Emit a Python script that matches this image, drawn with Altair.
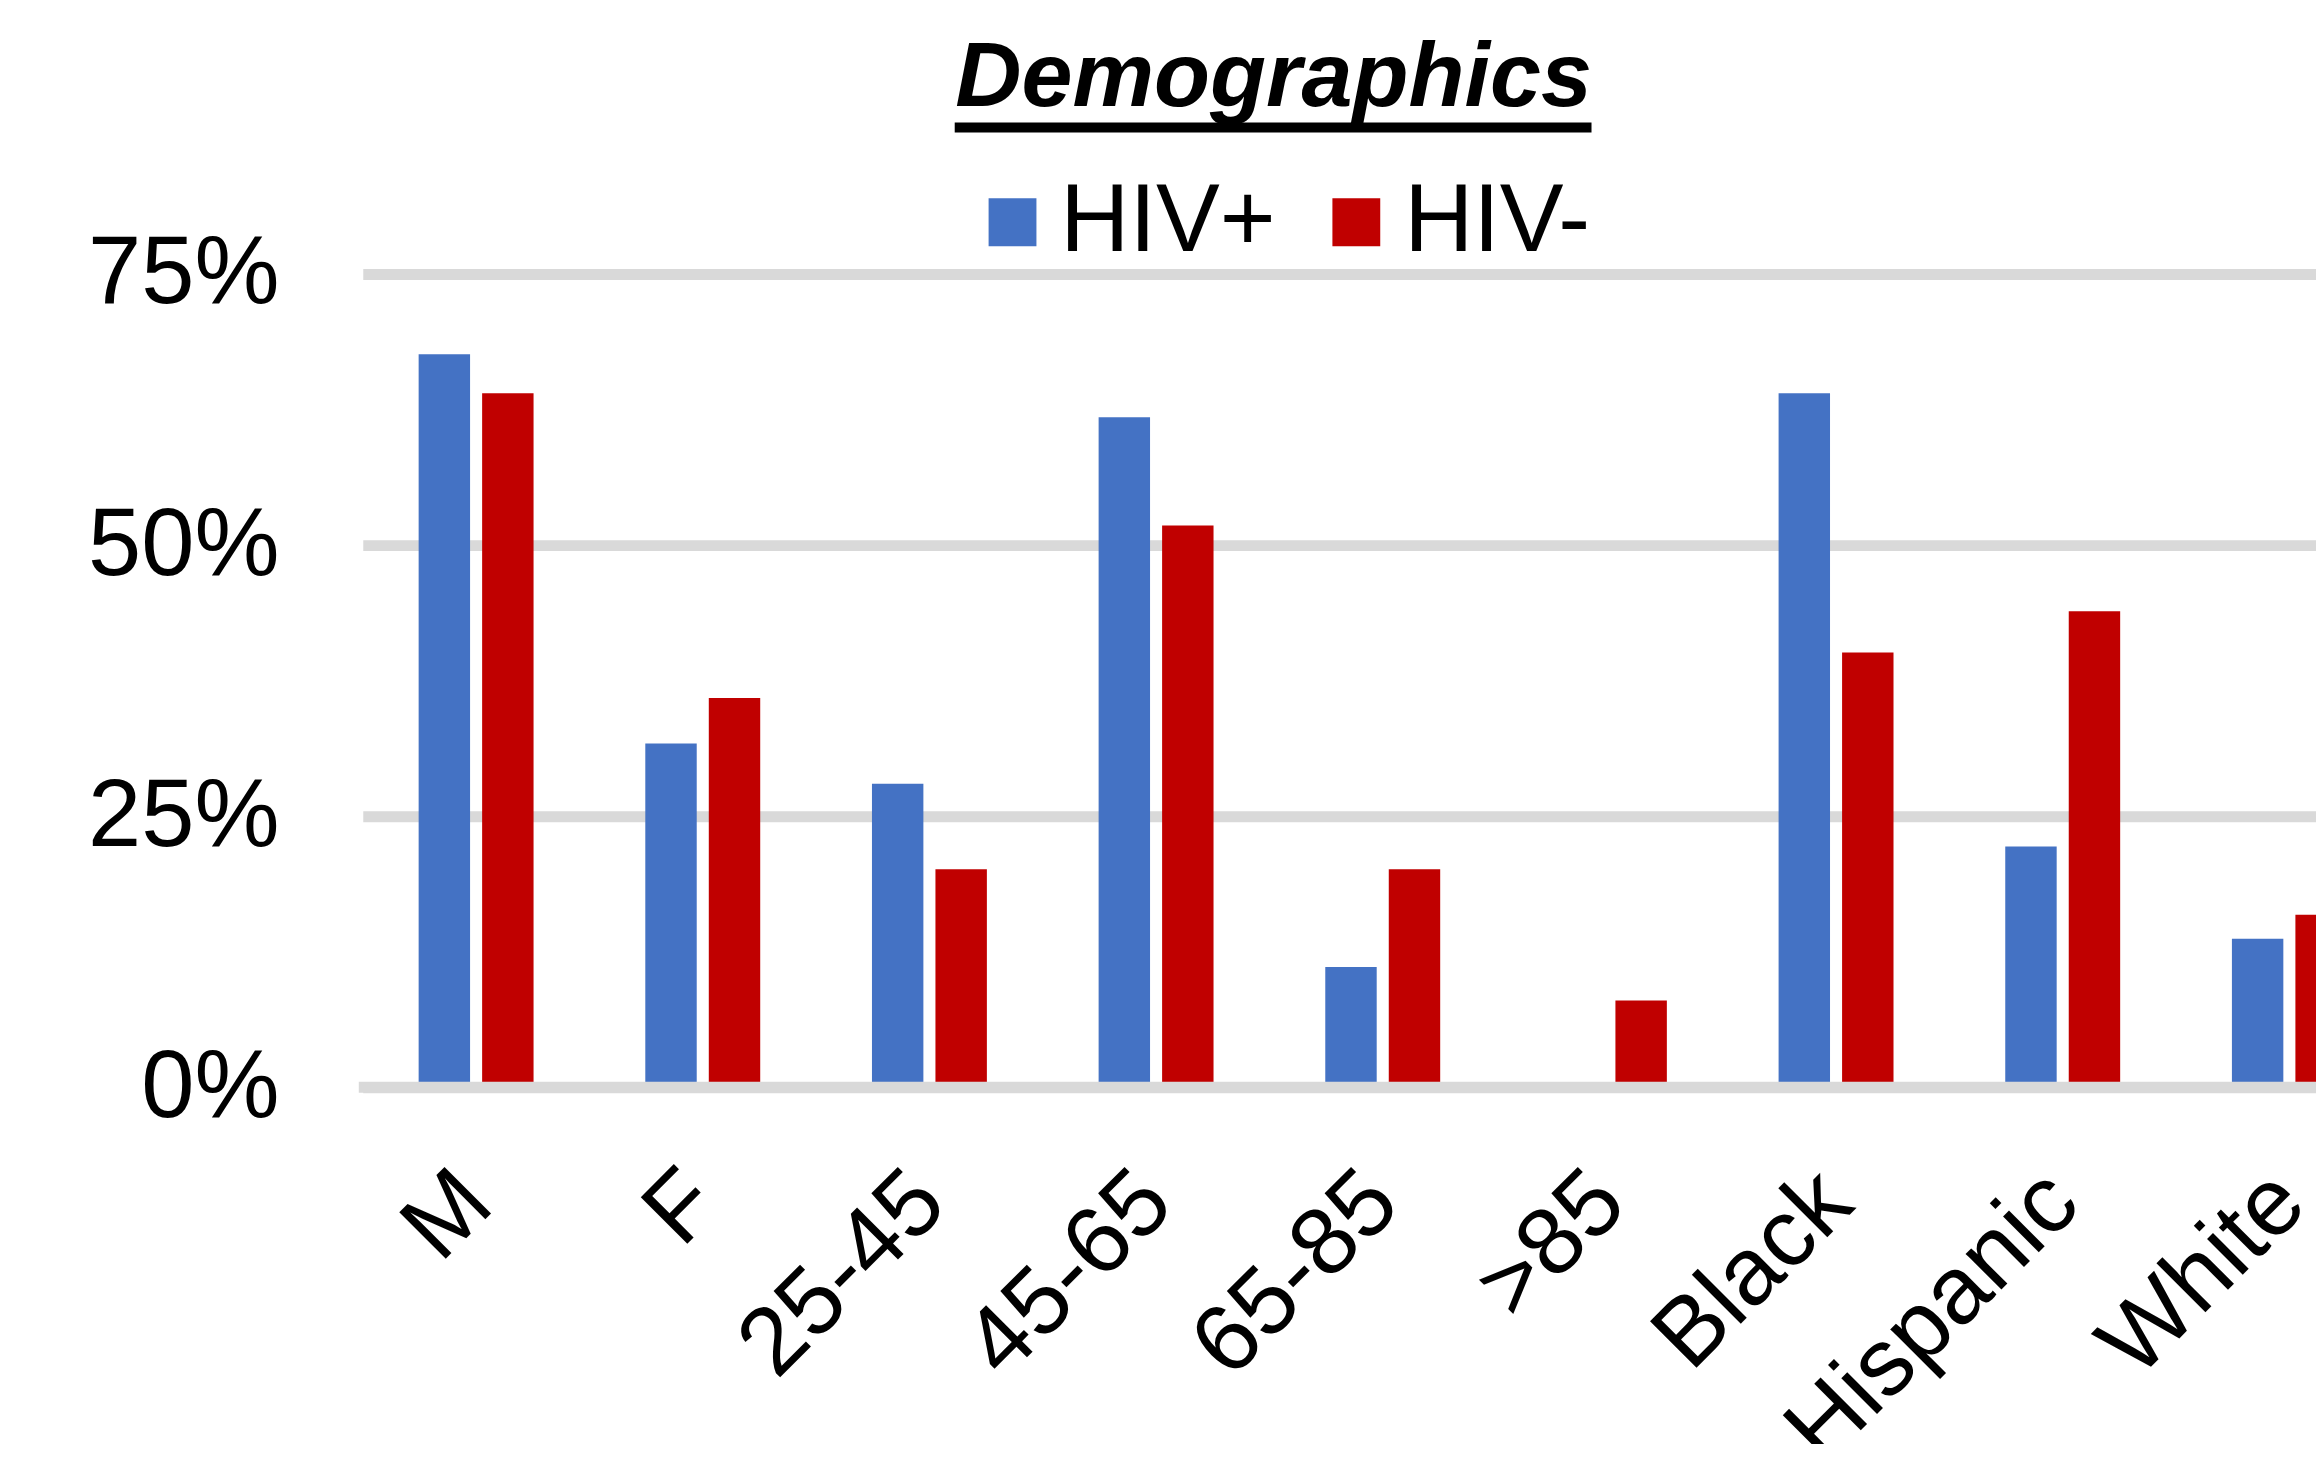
import altair as alt
import pandas as pd

categories = ["M", "F", "25-45", "45-65", "65-85", ">85", "Black", "Hispanic", "White"]
hiv_pos = [0.676, 0.317, 0.280, 0.618, 0.111, 0.0, 0.640, 0.222, 0.137]
hiv_neg = [0.640, 0.359, 0.201, 0.518, 0.201, 0.080, 0.401, 0.439, 0.159]
series = ["HIV+", "HIV-"]
colors = ["#4472C4", "#C00000"]
y_ticks = [0, 0.25, 0.5, 0.75]

rows = []
for c, p, n in zip(categories, hiv_pos, hiv_neg):
    rows.append({"cat": c, "grp": series[0], "val": p})
    rows.append({"cat": c, "grp": series[1], "val": n})
df = pd.DataFrame(rows)

FONT = "Liberation Sans"
GRID = "#D9D9D9"

bars = alt.Chart(df).mark_bar().encode(
    x=alt.X(
        "cat:N",
        sort=categories,
        scale=alt.Scale(range=[4, 2051], paddingInner=0.493, paddingOuter=0.2465),
        axis=alt.Axis(
            title=None, labelAngle=-45, labelAlign="right", labelBaseline="middle",
            labelPadding=100, labelFontSize=96, labelFont=FONT, labelColor="#000",
            ticks=False, domain=False, grid=False, labelOverlap=False, labelLimit=0,
        ),
    ),
    xOffset=alt.XOffset("grp:N", sort=series, scale=alt.Scale(paddingInner=0.19)),
    y=alt.Y(
        "val:Q",
        scale=alt.Scale(domain=[0, 0.75], nice=False),
        axis=alt.Axis(
            title=None, values=y_ticks, format=".0%", labelFontSize=96, labelFont=FONT,
            labelColor="#000", labelPadding=80, ticks=False, domain=False, labelLimit=0,
            grid=True, gridColor=GRID, gridWidth=11,
        ),
    ),
    color=alt.Color(
        "grp:N",
        sort=series,
        scale=alt.Scale(domain=series, range=colors),
        legend=alt.Legend(
            orient="none", legendX=608, legendY=-100, direction="horizontal", title=None,
            symbolType="square", symbolSize=2304, symbolStrokeWidth=0,
            labelFontSize=96, labelFont=FONT, labelColor="#000", labelOffset=0,
            columnPadding=32, padding=0, labelLimit=0,
        ),
    ),
)

zero_line = alt.Chart(pd.DataFrame({"z": [0]})).mark_rule(color=GRID, strokeWidth=11).encode(
    y=alt.datum(0)
)

underline = alt.Chart(pd.DataFrame({"u": [0]})).mark_rule(color="#000", strokeWidth=10).encode(
    x=alt.value(598), x2=alt.value(1237), y=alt.value(-147)
)

chart = alt.layer(bars, zero_line, underline).properties(
    width=1964,
    height=816,
    title=alt.Title(
        "Demographics", font=FONT, fontSize=92, fontWeight="bold", fontStyle="italic",
        color="#000", anchor="middle", frame="group", dx=-64, dy=88, offset=13,
        baseline="alphabetic",
    ),
    view=alt.ViewBackground(stroke="transparent", strokeWidth=0),
    autosize=alt.AutoSizeParams(type="none"),
    padding={"left": 352, "top": 264.5, "right": 0, "bottom": 355.5},
).configure_view(stroke="transparent", strokeOpacity=0, strokeWidth=0).configure_axis(
    domain=False, ticks=False
).configure(background="white")

chart.save("out.html", embed_options={"renderer": "svg", "actions": False})
